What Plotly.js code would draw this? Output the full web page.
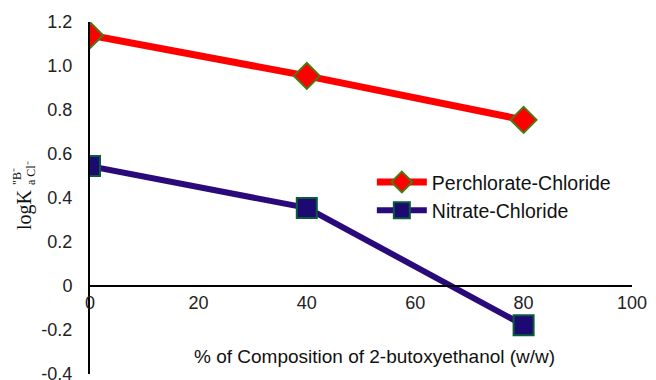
<!DOCTYPE html>
<html><head><meta charset="utf-8">
<script src="https://cdn.plot.ly/plotly-3.0.1.min.js"></script>
<style>body{margin:0;background:#fff}#c{width:656px;height:380px}</style>
</head><body><div id="c"></div>
<script>
const composition = [0, 40, 80];
const perchlorate = [1.14, 0.955, 0.755];
const nitrate = [0.545, 0.355, -0.178];
const yTickVals = [-0.4, -0.2, 0, 0.2, 0.4, 0.6, 0.8, 1.0, 1.2];
const yTickText = ["-0.4", "-0.2", "0", "0.2", "0.4", "0.6", "0.8", "1.0", "1.2"];
const xTickVals = [0, 20, 40, 60, 80, 100];
const xTickText = ["0", "20", "40", "60", "80", "100"];

const font = {family: "Liberation Sans, Arial, sans-serif", size: 18, color: "#222"};
const serif = "Liberation Serif, Times New Roman, serif";
const traces = [
  {x: composition, y: perchlorate, name: "Perchlorate-Chloride", mode: "lines+markers",
   line: {color: "#ff0000", width: 7},
   marker: {symbol: "diamond", size: 20, color: "#ff0000", line: {color: "#4a7a10", width: 2}}},
  {x: composition, y: nitrate, name: "Nitrate-Chloride", mode: "lines+markers",
   line: {color: "#2a0a7a", width: 6},
   marker: {symbol: "square", size: 20, color: "#1c0a72", line: {color: "#0b5a3a", width: 2}}}
];
const layout = {
  width: 656, height: 380,
  margin: {l: 90, r: 24, t: 22, b: 6},
  paper_bgcolor: "#fff", plot_bgcolor: "#fff",
  font: font,
  showlegend: true,
  legend: {x: 0.52, y: 0.6, xanchor: "left", yanchor: "top", itemwidth: 50,
           font: {family: "Liberation Sans, Arial, sans-serif", size: 19.5, color: "#111"},
           bgcolor: "rgba(0,0,0,0)", tracegroupgap: 6},
  xaxis: {range: [0, 100], tickvals: xTickVals, ticktext: xTickText, showgrid: false,
          zeroline: false, showline: true, linecolor: "#000", linewidth: 2, ticks: "",
          anchor: "free", position: 0.25, tickfont: font, ticklabeloverflow: "allow"},
  yaxis: {range: [-0.4, 1.2], tickvals: yTickVals, ticktext: yTickText, showgrid: false,
          zeroline: false, showline: true, linecolor: "#000", linewidth: 2, ticks: "",
          ticklabelstandoff: 12, tickfont: font, ticklabeloverflow: "allow"},
  annotations: [
    {text: "% of Composition of 2-butoxyethanol (w/w)", xref: "paper", yref: "paper",
     x: 0.525, y: 0.05, xanchor: "center", yanchor: "middle", showarrow: false,
     font: {family: "Liberation Sans, Arial, sans-serif", size: 19, color: "#111"}},
    {text: "logK", xref: "paper", yref: "paper", x: 0, y: 0.466, xshift: -65,
     xanchor: "center", yanchor: "middle", showarrow: false, textangle: -90,
     font: {family: serif, size: 20, color: "#111"}},
    {text: "\"B\u207B", xref: "paper", yref: "paper", x: 0, y: 0.466, xshift: -73, yshift: 33,
     xanchor: "center", yanchor: "middle", showarrow: false, textangle: -90,
     font: {family: serif, size: 12, color: "#111"}},
    {text: "a Cl\u207B", xref: "paper", yref: "paper", x: 0, y: 0.466, xshift: -59, yshift: 37,
     xanchor: "center", yanchor: "middle", showarrow: false, textangle: -90,
     font: {family: serif, size: 12, color: "#111"}}
  ]
};
Plotly.newPlot("c", traces, layout, {displayModeBar: false, staticPlot: true});
</script></body></html>
